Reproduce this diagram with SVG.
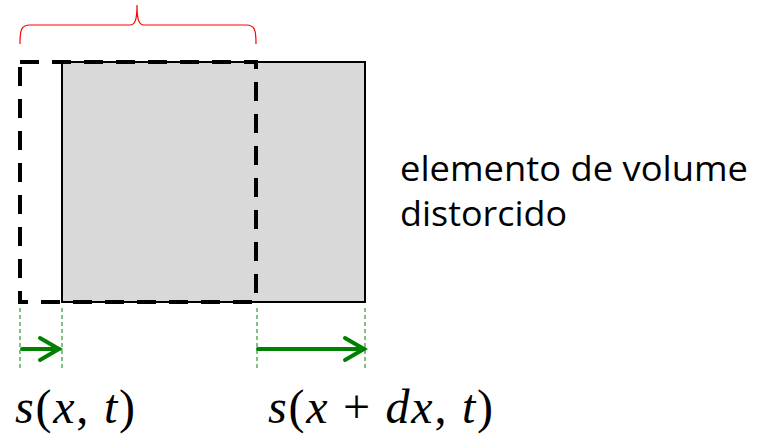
<svg xmlns="http://www.w3.org/2000/svg" width="758" height="438" viewBox="0 0 758 438">
<style>
.lbl{font-family:"Open Sans","Liberation Sans",sans-serif;font-size:34px;fill:#000}
.math{font-family:"Liberation Serif","DejaVu Serif",serif;font-size:48px;fill:#000}
.mi{font-style:italic}
.guide{stroke:#008000;stroke-width:1;stroke-dasharray:4 3;fill:none}
.arr{stroke:#008000;stroke-width:4;fill:none;stroke-linecap:round}
</style>
<rect width="758" height="438" fill="#fff"/>
<g id="element">
<rect x="62" y="62" width="303" height="240" fill="#d9d9d9" stroke="#000" stroke-width="2"/>
</g>
<g id="original">
<rect x="20" y="62" width="236" height="240" fill="none" stroke="#000" stroke-width="4" stroke-dasharray="19 13"/>
</g>
<g id="brace">
<path d="M20,44 C20,30 21,25 30,25 L130,25 C135,25 137,20 137,5 C137,20 139,25 144,25 L246,25 C255,25 256,30 256,44" fill="none" stroke="#ff0000" stroke-width="1.2"/>
</g>
<g id="connectors">
<line class="guide" x1="20" y1="308" x2="20" y2="370"/>
<line class="guide" x1="62" y1="308" x2="62" y2="370"/>
<line class="guide" x1="257" y1="308" x2="257" y2="370"/>
<line class="guide" x1="365" y1="308" x2="365" y2="370"/>
<line class="arr" x1="22" y1="349" x2="59" y2="349"/>
<polyline class="arr" points="40,338 59,349 40,360"/>
<line class="arr" x1="258" y1="349" x2="364" y2="349"/>
<polyline class="arr" points="345,338 364,349 345,360"/>
</g>
<g id="label-element">
<text class="lbl" x="400" y="181" textLength="348" lengthAdjust="spacingAndGlyphs">elemento de volume</text>
<text class="lbl" x="400" y="226" textLength="167" lengthAdjust="spacingAndGlyphs">distorcido</text>
</g>
<g id="label-s1">
<text class="math" x="15" y="423" textLength="120" lengthAdjust="spacing"><tspan class="mi">s</tspan>(<tspan class="mi">x</tspan>, <tspan class="mi">t</tspan>)</text>
</g>
<g id="label-s2">
<text class="math" x="268" y="423" textLength="225" lengthAdjust="spacing"><tspan class="mi">s</tspan>(<tspan class="mi">x</tspan> + <tspan class="mi">dx</tspan>, <tspan class="mi">t</tspan>)</text>
</g>
</svg>
